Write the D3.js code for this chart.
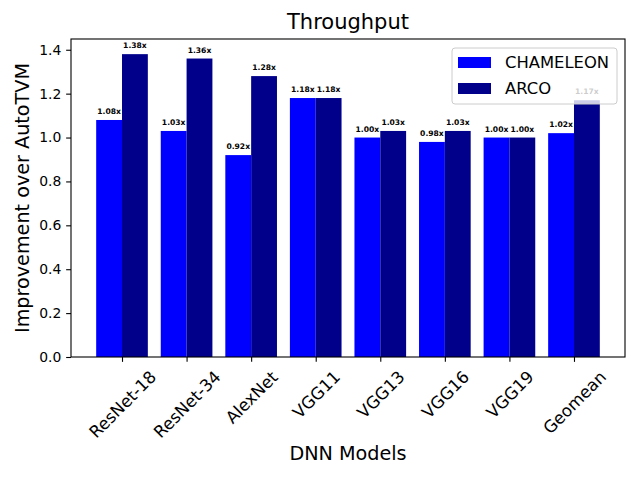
<!DOCTYPE html>
<html>
<head>
<meta charset="utf-8">
<script src="https://cdn.jsdelivr.net/npm/d3@7"></script>
<style>
  body { margin: 0; background: #fff; }
  text { font-family: "DejaVu Sans", sans-serif; }
</style>
</head>
<body>
<div id="chart"></div>
<script>
// data
var models = ['ResNet-18', 'ResNet-34', 'AlexNet', 'VGG11', 'VGG13', 'VGG16', 'VGG19', 'Geomean']
var chameleon = [1.08, 1.03, 0.92, 1.18, 1.00, 0.98, 1.00, 1.02]
var arco = [1.38, 1.36, 1.28, 1.18, 1.03, 1.03, 1.00, 1.17]
var yTicks = [0, 0.2, 0.4, 0.6, 0.8, 1.0, 1.2, 1.4]

var series = [
  { name: 'CHAMELEON', values: chameleon, color: '#0000ff', offset: -0.4 },
  { name: 'ARCO', values: arco, color: '#00008b', offset: 0 }
]

var W = 640, H = 480
var margin = { top: 39, left: 71, right: 15, bottom: 123 }
var width = W - margin.left - margin.right
var height = H - margin.top - margin.bottom

var svg = d3.select('#chart')
  .append('svg')
  .attr('width', W)
  .attr('height', H)

var g = svg.append('g')
  .attr('transform', 'translate(' + margin.left + ',' + margin.top + ')')

var barW = 0.4
var xPositionScale = d3.scaleLinear()
  .domain([-0.79, models.length - 1 + 0.79])
  .range([0, width])

var yMax = d3.max(arco) * 1.05
var yPositionScale = d3.scaleLinear()
  .domain([0, yMax])
  .range([height, 0])

// bars
series.forEach(function(s) {
  g.selectAll('.bar-' + s.name)
    .data(s.values)
    .enter()
    .append('rect')
    .attr('x', (d, i) => xPositionScale(i + s.offset))
    .attr('width', (d, i) => xPositionScale(i + s.offset + barW) - xPositionScale(i + s.offset))
    .attr('y', d => yPositionScale(d))
    .attr('height', d => height - yPositionScale(d))
    .attr('fill', s.color)
})

// value labels
series.forEach(function(s) {
  g.selectAll('.lab-' + s.name)
    .data(s.values)
    .enter()
    .append('text')
    .text(d => d.toFixed(2) + 'x')
    .attr('x', (d, i) => xPositionScale(i + s.offset + barW / 2))
    .attr('y', d => yPositionScale(d) - 6)
    .attr('text-anchor', 'middle')
    .attr('font-size', 7.6)
    .attr('font-weight', 'bold')
    .attr('fill', '#000')
})

// axes
var tickLen = 4.86
var yAxis = d3.axisLeft(yPositionScale)
  .tickValues(yTicks)
  .tickFormat(d3.format('.1f'))
  .tickSize(tickLen)
  .tickPadding(4.86)
var yg = g.append('g').attr('class', 'axis y-axis').call(yAxis)
yg.select('.domain').remove()
yg.selectAll('line').attr('stroke', '#000').attr('stroke-width', 1.1)
yg.selectAll('text').attr('font-size', 13.9).attr('fill', '#000')
  .attr('font-family', '"DejaVu Sans", sans-serif')

var xAxis = d3.axisBottom(xPositionScale)
  .tickValues(d3.range(models.length))
  .tickFormat(i => models[i])
  .tickSize(tickLen)
var xg = g.append('g').attr('class', 'axis x-axis')
  .attr('transform', 'translate(0,' + height + ')')
  .call(xAxis)
xg.select('.domain').remove()
xg.selectAll('line').attr('stroke', '#000').attr('stroke-width', 1.1)

// rotate tick labels like matplotlib: rotate first, then center the box under the tick
xg.selectAll('.tick').each(function() {
  var tick = d3.select(this)
  var txt = tick.select('text')
  var label = txt.text()
  txt.remove()
  var holder = tick.append('g')
  holder.append('text')
    .text(label)
    .attr('font-size', 16.7)
    .attr('font-family', '"DejaVu Sans", sans-serif')
    .attr('fill', '#000')
    .attr('text-anchor', 'middle')
    .attr('transform', 'rotate(-45)')
  var bb = holder.node().getBBox()
  holder.attr('transform', 'translate(' + (-(bb.x + bb.width / 2)) + ',' + (tickLen + 4.86 - bb.y) + ')')
})

// frame
g.append('rect')
  .attr('width', width)
  .attr('height', height)
  .attr('fill', 'none')
  .attr('stroke', '#000')
  .attr('stroke-width', 1.1)

// titles
svg.append('text')
  .text('Throughput')
  .attr('x', margin.left + width / 2)
  .attr('y', 28.5)
  .attr('text-anchor', 'middle')
  .attr('font-size', 21)

svg.append('text')
  .text('DNN Models')
  .attr('x', margin.left + width / 2)
  .attr('y', 460)
  .attr('text-anchor', 'middle')
  .attr('font-size', 19.2)

svg.append('text')
  .text('Improvement over AutoTVM')
  .attr('transform', 'translate(29,' + (margin.top + height / 2) + ') rotate(-90)')
  .attr('text-anchor', 'middle')
  .attr('font-size', 19.2)

// legend, semi transparent so it sits over the geomean bar
var legend = svg.append('g').attr('transform', 'translate(452,48)')
legend.append('rect')
  .attr('width', 165)
  .attr('height', 56)
  .attr('rx', 3)
  .attr('fill', '#fff')
  .attr('fill-opacity', 0.8)
  .attr('stroke', '#cccccc')
  .attr('stroke-width', 1)

series.forEach(function(s, i) {
  legend.append('rect')
    .attr('x', 6)
    .attr('y', 9 + i * 26)
    .attr('width', 33)
    .attr('height', 11)
    .attr('fill', s.color)
  legend.append('text')
    .text(s.name)
    .attr('x', 53)
    .attr('y', 20 + i * 26)
    .attr('font-size', 16.4)
    .attr('fill', '#000')
})
</script>
</body>
</html>
